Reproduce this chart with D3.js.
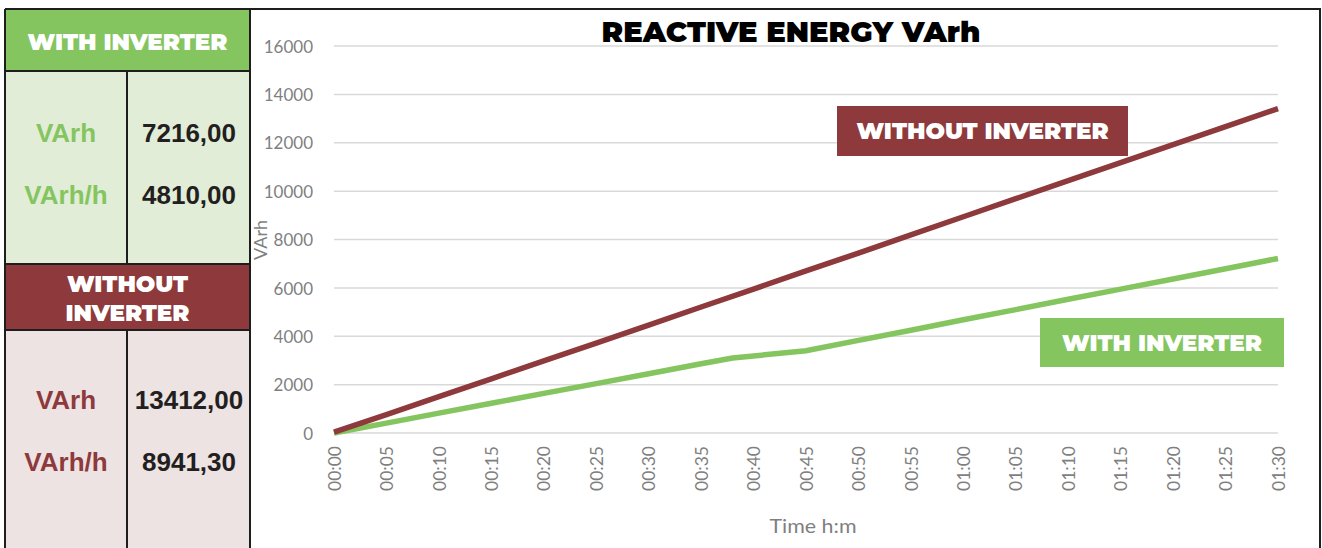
<!DOCTYPE html>
<html>
<head>
<meta charset="utf-8">
<script src="https://cdn.jsdelivr.net/npm/d3@7"></script>
<style>
  body { margin: 0; background: #fff; }
  svg { display: block; }
</style>
</head>
<body>
<div class="chart"></div>
<script>
// time in minutes for each series
const minutesWithout = [0, 5, 10, 15, 20, 25, 30, 35, 40, 45, 50, 55, 60, 65, 70, 75, 80, 85, 90]
const varhWithout = [40, 760, 1500, 2240, 2980, 3720, 4460, 5210, 5950, 6700, 7440, 8190, 8940, 9690, 10430, 11180, 11920, 12670, 13412]
const minutesWith = [0, 5, 10, 15, 20, 25, 30, 35, 38, 45, 50, 55, 60, 65, 70, 75, 80, 85, 90]
const varhWith = [0, 410, 820, 1230, 1640, 2040, 2450, 2860, 3100, 3400, 3830, 4250, 4680, 5100, 5530, 5950, 6370, 6790, 7216]

const tickMinutes = d3.range(0, 91, 5)
const yTicks = [0, 2000, 4000, 6000, 8000, 10000, 12000, 14000, 16000]

const tableWith = [['VArh', '7216,00'], ['VArh/h', '4810,00']]
const tableWithout = [['VArh', '13412,00'], ['VArh/h', '8941,30']]

const RED = '#8e3a3c'
const GREEN = '#84c55f'
const HEAVY = 'Montserrat, Lato, "Noto Sans", sans-serif'

const width = 1322
const height = 548

const svg = d3.select('.chart').append('svg')
  .attr('width', width)
  .attr('height', height)

// ---- left table ----
const table = svg.append('g')
const tl = 5, tr = 250, colX = 127

table.append('rect').attr('x', tl).attr('y', 9).attr('width', tr - tl).attr('height', 62).attr('fill', GREEN)
table.append('rect').attr('x', tl).attr('y', 71).attr('width', tr - tl).attr('height', 193).attr('fill', '#e2edd8')
table.append('rect').attr('x', tl).attr('y', 264).attr('width', tr - tl).attr('height', 66).attr('fill', RED)
table.append('rect').attr('x', tl).attr('y', 330).attr('width', tr - tl).attr('height', height - 330).attr('fill', '#ede3e3')

const border = (x1, y1, x2, y2) => table.append('line')
  .attr('x1', x1).attr('y1', y1).attr('x2', x2).attr('y2', y2)
  .attr('stroke', '#1e1e1e').attr('stroke-width', 2)

border(tl, 9, tl, height)
border(tr, 9, tr, height)
border(tl, 9, tr, 9)
border(tl, 71, tr, 71)
border(tl, 264, tr, 264)
border(tl, 330, tr, 330)
border(colX, 71, colX, 264)
border(colX, 330, colX, height)

const headText = (lines, y0) => {
  lines.forEach((t, i) => {
    table.append('text')
      .attr('x', (tl + tr) / 2).attr('y', y0 + i * 29)
      .attr('text-anchor', 'middle')
      .attr('fill', '#fff')
      .style('font-family', HEAVY).style('font-weight', 900).style('font-size', '23px')
      .text(t)
  })
}
headText(['WITH INVERTER'], 50)
headText(['WITHOUT', 'INVERTER'], 292)

const rowText = (rows, ys, color) => {
  rows.forEach((r, i) => {
    table.append('text')
      .attr('x', 66).attr('y', ys[i])
      .attr('text-anchor', 'middle').attr('fill', color)
      .style('font-family', 'Arial, "Liberation Sans", sans-serif').style('font-weight', 700).style('font-size', '26px')
      .text(r[0])
    table.append('text')
      .attr('x', 189).attr('y', ys[i])
      .attr('text-anchor', 'middle').attr('fill', '#231f20')
      .style('font-family', 'Arial, "Liberation Sans", sans-serif').style('font-weight', 700).style('font-size', '26px')
      .text(r[1])
  })
}
rowText(tableWith, [142, 204], GREEN)
rowText(tableWithout, [409, 471], RED)

// ---- chart frame ----
svg.append('path')
  .attr('d', `M${tr},${height} V9 H1320 V${height}`)
  .attr('fill', 'none').attr('stroke', '#1e1e1e').attr('stroke-width', 2)

const x = d3.scaleLinear().domain([0, 90]).range([334, 1278])
const y = d3.scaleLinear().domain([0, 16000]).range([433, 46])

const grid = svg.append('g')
grid.selectAll('line').data(yTicks).enter().append('line')
  .attr('x1', 334).attr('x2', 1278)
  .attr('y1', (d) => y(d)).attr('y2', (d) => y(d))
  .attr('stroke', '#d9d9d9').attr('stroke-width', 1.5)

const yAxis = svg.append('g')
  .attr('transform', 'translate(334,0)')
  .call(d3.axisLeft(y).tickValues(yTicks).tickSize(0).tickPadding(21).tickFormat(d3.format('d')))
yAxis.select('.domain').remove()
yAxis.selectAll('text')
  .attr('fill', '#7f7f7f').attr('dy', '0.36em')
  .style('font-family', 'Lato, sans-serif').style('font-size', '17px')

const xAxis = svg.append('g')
  .attr('transform', 'translate(0,433)')
  .call(d3.axisBottom(x).tickValues(tickMinutes).tickSize(0)
    .tickFormat((m) => `${String(Math.floor(m / 60)).padStart(2, '0')}:${String(m % 60).padStart(2, '0')}`))
xAxis.select('.domain').remove()
xAxis.selectAll('text')
  .attr('transform', 'rotate(-90)')
  .attr('text-anchor', 'end')
  .attr('x', -13).attr('y', 0).attr('dy', '0.35em')
  .attr('fill', '#7f7f7f')
  .style('font-family', 'Lato, sans-serif').style('font-size', '17.5px')

svg.append('text')
  .attr('x', 813).attr('y', 533)
  .attr('text-anchor', 'middle').attr('fill', '#7f7f7f')
  .style('font-family', 'Lato, sans-serif').style('font-size', '20px')
  .attr('textLength', 87).attr('lengthAdjust', 'spacingAndGlyphs')
  .text('Time h:m')

svg.append('text')
  .attr('transform', 'translate(267,240) rotate(-90)')
  .attr('text-anchor', 'middle').attr('fill', '#7f7f7f')
  .style('font-family', 'Lato, sans-serif').style('font-size', '18px')
  .text('VArh')

svg.append('text')
  .attr('x', 791).attr('y', 42)
  .attr('text-anchor', 'middle').attr('fill', '#000')
  .style('font-family', HEAVY).style('font-weight', 900).style('font-size', '29px')
  .text('REACTIVE ENERGY VArh')

// ---- lines ----
const line = d3.line().x((d) => x(d[0])).y((d) => y(d[1]))

svg.append('path')
  .datum(d3.zip(minutesWith, varhWith))
  .attr('d', line)
  .attr('fill', 'none').attr('stroke', GREEN).attr('stroke-width', 5.5)

svg.append('path')
  .datum(d3.zip(minutesWithout, varhWithout))
  .attr('d', line)
  .attr('fill', 'none').attr('stroke', RED).attr('stroke-width', 5.5)

// ---- series labels ----
const tag = (label, color, x0, y0, w, h) => {
  svg.append('rect').attr('x', x0).attr('y', y0).attr('width', w).attr('height', h).attr('fill', color)
  svg.append('text')
    .attr('x', x0 + w / 2).attr('y', y0 + h / 2 + 8)
    .attr('text-anchor', 'middle').attr('fill', '#fff')
    .style('font-family', HEAVY).style('font-weight', 900).style('font-size', '23px')
    .text(label)
}
tag('WITHOUT INVERTER', RED, 837, 106, 291, 50)
tag('WITH INVERTER', GREEN, 1040, 318, 244, 49)
</script>
</body>
</html>
